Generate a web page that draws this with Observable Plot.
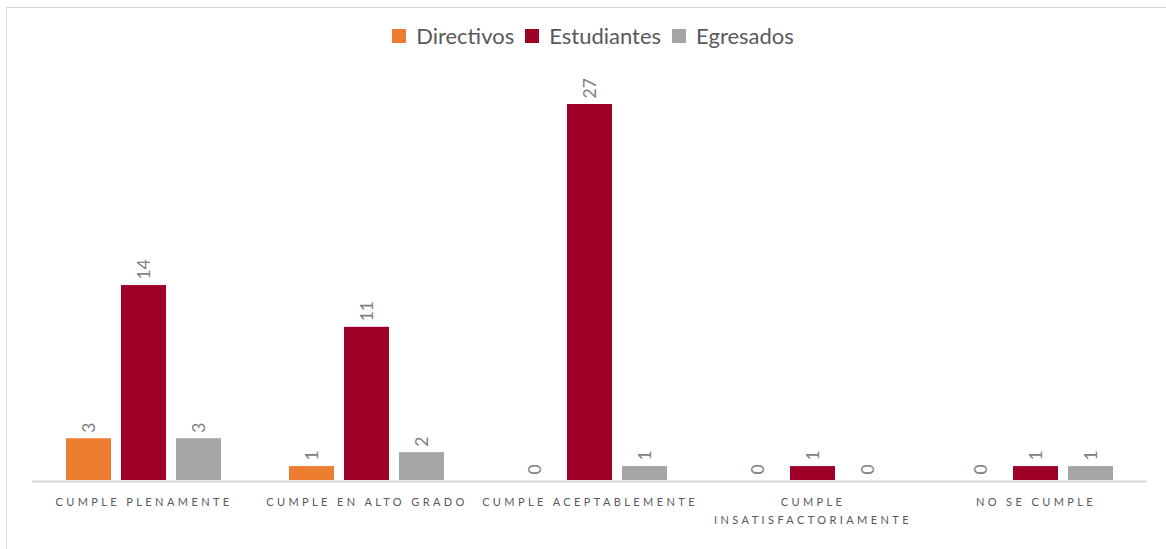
<!DOCTYPE html>
<html>
<head>
<meta charset="utf-8">
<script src="https://cdn.jsdelivr.net/npm/d3@7"></script>
<script src="https://cdn.jsdelivr.net/npm/@observablehq/plot@0.6"></script>
<style>
  body { margin: 0; background: #fff; font-family: Lato, "Open Sans", sans-serif; }
  #wrap { position: relative; width: 1166px; height: 549px; overflow: hidden; }
  #frame { position: absolute; left: 6px; top: 7px; width: 1200px; height: 600px; border: 1.5px solid #d9d9d9; box-sizing: border-box; }
  #legend { position: absolute; top: 22px; left: 0; width: 1166px; padding-left: 20px; box-sizing: border-box;
    display: flex; justify-content: center; gap: 11px; font-size: 22px; color: #595959; font-family: Lato, sans-serif; }
  #legend .item { display: flex; align-items: center; gap: 10px; }
  #legend .sw { width: 14px; height: 14px; display: inline-block; }
  #chart { position: absolute; left: 0; top: 0; }
  #chart svg g[aria-label="fx-axis tick label"] text { letter-spacing: 3.4px; }
</style>
</head>
<body>
<div id="wrap">
  <div id="frame"></div>
  <div id="chart"></div>
  <div id="legend"></div>
</div>
<script>
const categorias = ["CUMPLE PLENAMENTE", "CUMPLE EN ALTO GRADO", "CUMPLE ACEPTABLEMENTE", "CUMPLE INSATISFACTORIAMENTE", "NO SE CUMPLE"];
const series = ["Directivos", "Estudiantes", "Egresados"];
const directivos = [3, 1, 0, 0, 0];
const estudiantes = [14, 11, 27, 1, 1];
const egresados = [3, 2, 1, 0, 1];
const colores = ["#ED7D31", "#9E0028", "#A5A5A5"];

const valores = [directivos, estudiantes, egresados];
const data = [];
categorias.forEach((c, i) => {
  series.forEach((s, j) => data.push({categoria: c, serie: s, valor: valores[j][i]}));
});

const wrapLabel = d => d.length > 22 ? d.replace(" ", "\n") : d;

const chart = Plot.plot({
  width: 1166,
  height: 549,
  marginLeft: 32,
  marginRight: 19,
  marginTop: 104,
  marginBottom: 69,
  style: {fontFamily: "Lato, sans-serif", background: "transparent"},
  fx: {domain: categorias, padding: 0, axis: null},
  x: {domain: series, paddingInner: 0.19, paddingOuter: 0.604, axis: null},
  y: {domain: [0, 27], axis: null},
  color: {domain: series, range: colores},
  marks: [
    Plot.barY(data, {fx: "categoria", x: "serie", y: "valor", fill: "serie"}),
    Plot.ruleY([0], {stroke: "#d9d9d9", strokeWidth: 2, dy: 1}),
    Plot.text(data, {fx: "categoria", x: "serie", y: "valor", text: d => String(d.valor),
      rotate: -90, textAnchor: "start", dy: -6, fill: "#808080", fontSize: 17.5}),
    Plot.axisFx({anchor: "bottom", tickSize: 0, tickPadding: 13, fontSize: 11, fill: "#595959",
      tickFormat: wrapLabel, lineHeight: 1.6, label: null})
  ]
});
document.getElementById("chart").appendChild(chart);

const legend = document.getElementById("legend");
series.forEach((s, j) => {
  const item = document.createElement("div");
  item.className = "item";
  const sw = document.createElement("span");
  sw.className = "sw";
  sw.style.background = colores[j];
  const t = document.createElement("span");
  t.textContent = s;
  item.appendChild(sw);
  item.appendChild(t);
  legend.appendChild(item);
});
</script>
</body>
</html>
